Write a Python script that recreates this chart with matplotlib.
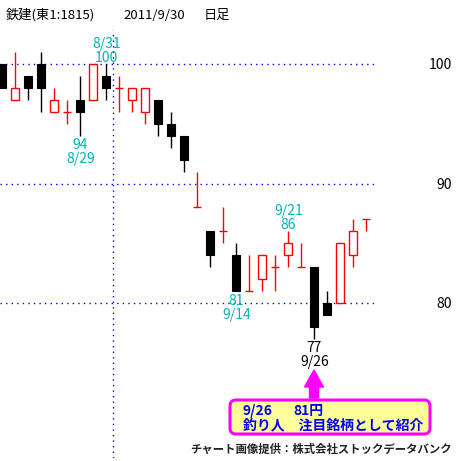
import matplotlib
matplotlib.use("Agg")
import matplotlib.pyplot as plt
from matplotlib.patches import Rectangle, FancyBboxPatch, FancyArrow

# daily candles, 2011/8/19 - 2011/9/30
dates = ["8/19", "8/22", "8/23", "8/24", "8/25", "8/26", "8/29", "8/30", "8/31",
         "9/1", "9/2", "9/5", "9/6", "9/7", "9/8", "9/9", "9/12", "9/13", "9/14",
         "9/15", "9/16", "9/20", "9/21", "9/22", "9/26", "9/27", "9/28", "9/29", "9/30"]
opens = [100, 97, 99, 100, 96, 96, 97, 97, 99,
         98, 97, 96, 97, 95, 94, 88, 86, 86, 84,
         81, 82, 83, 84, 83, 83, 80, 80, 84, 87]
highs = [100, 101, 99, 101, 98, 97, 99, 100, 100,
         99, 98, 98, 97, 96, 94, 91, 86, 88, 85,
         84, 84, 84, 86, 85, 83, 81, 85, 87, 87]
lows = [98, 97, 97, 96, 96, 95, 94, 97, 97,
        96, 96, 95, 94, 93, 91, 88, 83, 85, 81,
        81, 81, 81, 83, 83, 77, 79, 80, 83, 86]
closes = [98, 98, 98, 98, 97, 96, 96, 100, 98,
          98, 98, 98, 95, 94, 92, 88, 84, 86, 81,
          81, 84, 83, 85, 83, 78, 79, 85, 86, 87]

grid_prices = [100, 90, 80]
month_break = 8.5   # between 8/31 and 9/1

# (date, value, above/below, colour)
peak_labels = [("8/31", 100, "above", "#00b4b4"),
               ("8/29", 94, "below", "#00b4b4"),
               ("9/14", 81, "below", "#00b4b4"),
               ("9/21", 86, "above", "#00b4b4"),
               ("9/26", 77, "below", "black")]

title_parts = ["鉄建(東1:1815)", "2011/9/30", "日足"]
note_date, note_price = "9/26", "81円"
note_text = "釣り人　注目銘柄として紹介"
credit = "チャート画像提供：株式会社ストックデータバンク"

JP = ["Noto Sans CJK JP", "DejaVu Sans"]
NUM = ["Noto Sans CJK JP", "DejaVu Sans"]
RED, BLUE, MAG = "#ff0000", "#0000ff", "#ff00ff"
PX = 0.72  # points per pixel at dpi 100

W, H = 458, 461
fig = plt.figure(figsize=(W / 100, H / 100), dpi=100)
ax = fig.add_axes((0, 3 / H, 376 / W, 428 / H))
ax.set_xlim(-2 / 13, 374 / 13)
ax.set_ylim(100 - 394 / 11.95, 100 + 34 / 11.95)
ax.axis("off")

for p in grid_prices:
    ax.axhline(p, color=BLUE, lw=1.0, ls=(0, (1, 3)), zorder=1)
    ax.annotate(str(p), (1, p), xycoords=ax.get_yaxis_transform(),
                xytext=(76 * PX, -5 * PX), textcoords="offset points",
                ha="right", va="baseline", fontsize=10, family=NUM,
                annotation_clip=False)
ax.axvline(month_break, color=BLUE, lw=1.0, ls=(0, (1, 3)), zorder=1)

bw = 0.6
for i, (o, h, l, c) in enumerate(zip(opens, highs, lows, closes)):
    col = "black" if c < o else RED
    ax.vlines(i, l, h, color=col, lw=1.0, zorder=2)
    if o == c:
        ax.hlines(o, i - bw / 2, i + bw / 2, color=col, lw=1.0, zorder=3)
    elif c < o:
        ax.add_patch(Rectangle((i - bw / 2, c), bw, o - c, facecolor="black",
                               edgecolor="black", lw=0.8, zorder=3))
    else:
        ax.add_patch(Rectangle((i - bw / 2, o), bw, c - o, facecolor="white",
                               edgecolor=RED, lw=1.0, zorder=3))

for d, v, pos, col in peak_labels:
    i = dates.index(d)
    if pos == "above":
        lines = [(str(v), -2.5), (d, -16.5)]
        y = highs[i]
    else:
        lines = [(str(v), 13.5), (d, 27.5)]
        y = lows[i]
    for txt, off in lines:
        ax.annotate(txt, (i, y), xytext=(0.3 * PX, -off * PX),
                    textcoords="offset points", ha="center", va="baseline",
                    fontsize=10, family=NUM, color=col, annotation_clip=False)

# title
for txt, xp in zip(title_parts, [6, 123, 204]):
    fig.text(xp / W, 1 - 19 / H, txt, fontsize=9.5, family=JP, va="baseline")

# arrow + note box under the 9/26 low
ix = dates.index(note_date)
xa = ax.transData.transform((ix, 0))[0] / 100
fig.add_artist(FancyArrow(xa, (H - 398) / 100, 0, 0.28, width=0.09,
                          head_width=0.19, head_length=0.17,
                          length_includes_head=True, color=MAG,
                          transform=fig.dpi_scale_trans))
fig.add_artist(FancyBboxPatch((2.30, (H - 434) / 100), 2.00, 0.34,
                              boxstyle="round,pad=0,rounding_size=0.06",
                              facecolor="#ffff99", edgecolor=MAG, lw=2.2,
                              transform=fig.dpi_scale_trans))
fig.text(243 / W, 1 - 415 / H, note_date, fontsize=10, family=JP,
         weight="bold", color=BLUE, va="baseline")
fig.text(293 / W, 1 - 415 / H, note_price, fontsize=10, family=JP,
         weight="bold", color=BLUE, va="baseline")
fig.text(243 / W, 1 - 429 / H, note_text, fontsize=10, family=JP,
         weight="bold", color=BLUE, va="baseline")

fig.text(452 / W, 1 - 453 / H, credit, fontsize=8.2, family=JP,
         weight="bold", color="#222222", ha="right", va="baseline")

fig.savefig("out.png", dpi=100)
